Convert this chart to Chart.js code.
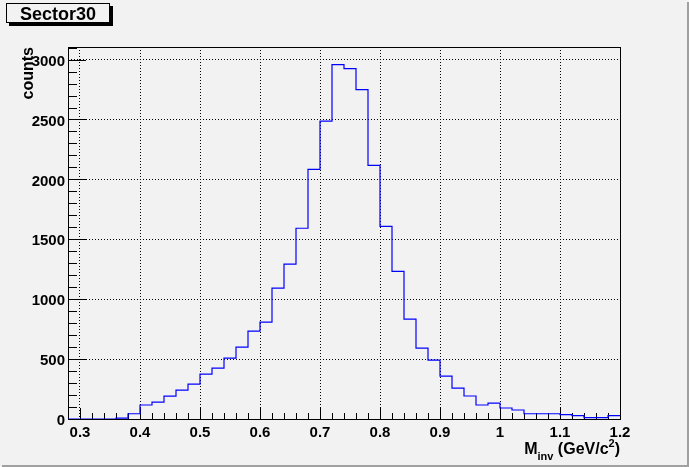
<!DOCTYPE html>
<html lang="en">
<head>
  <meta charset="UTF-8">
  <title>Sector30</title>
  <script src="https://cdn.jsdelivr.net/npm/chart.js"></script>
  <style>
    body { margin: 0; background: #f2f2f2; }
  </style>
</head>
<body>
  <canvas id="sectorChart" width="689" height="467"></canvas>

  <script>
    // low edges of the 0.02 GeV/c^2 bins
    const binEdges = [0.28, 0.30, 0.32, 0.34, 0.36, 0.38, 0.40, 0.42, 0.44, 0.46,
                      0.48, 0.50, 0.52, 0.54, 0.56, 0.58, 0.60, 0.62, 0.64, 0.66,
                      0.68, 0.70, 0.72, 0.74, 0.76, 0.78, 0.80, 0.82, 0.84, 0.86,
                      0.88, 0.90, 0.92, 0.94, 0.96, 0.98, 1.00, 1.02, 1.04, 1.06,
                      1.08, 1.10, 1.12, 1.14, 1.16, 1.18];
    const counts = [0, 0, 0, 0, 8, 44, 117, 141, 191, 241,
                    291, 375, 425, 508, 600, 733, 808, 1092, 1292, 1592,
                    2083, 2486, 2958, 2925, 2750, 2117, 1608, 1233, 833, 592,
                    492, 358, 258, 192, 117, 133, 92, 75, 44, 44,
                    44, 36, 28, 11, 11, 28];
    const xRange = [0.28, 1.2];
    const yMax = 3105;
    const xTickLabels = [0.3, 0.4, 0.5, 0.6, 0.7, 0.8, 0.9, 1.0, 1.1, 1.2];
    const yTickLabels = [0, 500, 1000, 1500, 2000, 2500, 3000];

    const histTitle = 'Sector30';
    const yTitle = 'counts';

    // step outline: each point is a bin's low edge, plus the closing upper edge
    const points = binEdges.map((e, i) => ({ x: e, y: counts[i] }));
    points.push({ x: xRange[1], y: counts[counts.length - 1] });

    const bg = '#f2f2f2';
    const font = 'Liberation Sans, Arial, Helvetica, sans-serif';

    // background, frame, inside ticks, titles (ROOT look)
    const rootStyle = {
      id: 'rootStyle',
      beforeDraw(chart) {
        const c = chart.ctx;
        c.save();
        c.fillStyle = bg;
        c.fillRect(0, 0, chart.width, chart.height);
        c.fillStyle = '#a0a0a0';
        c.fillRect(chart.width - 2, 2, 2, chart.height - 2);
        c.fillRect(2, chart.height - 2, chart.width - 2, 2);
        c.restore();
      },
      beforeDatasetsDraw(chart) {
        const c = chart.ctx;
        const a = chart.chartArea;
        const xs = chart.scales.x;
        const ys = chart.scales.y;
        c.save();
        c.strokeStyle = '#000';
        c.lineWidth = 1;
        c.beginPath();
        // x ticks, pointing up from the bottom of the frame
        for (let v = 28; v <= 120; v += 2) {
          const px = Math.round(xs.getPixelForValue(v / 100)) + 0.5;
          const len = (v % 10 === 0) ? 11 : 6;
          c.moveTo(px, a.bottom);
          c.lineTo(px, a.bottom - len);
        }
        // y ticks, pointing right from the left of the frame
        for (let v = 0; v <= 3100; v += 100) {
          const py = Math.round(ys.getPixelForValue(v)) + 0.5;
          const len = (v % 500 === 0) ? 18 : 9;
          c.moveTo(a.left, py);
          c.lineTo(a.left + len, py);
        }
        c.stroke();
        c.strokeRect(Math.round(a.left) + 0.5, Math.round(a.top) + 0.5,
                     Math.round(a.right - a.left), Math.round(a.bottom - a.top));
        c.restore();
      },
      afterDraw(chart) {
        const c = chart.ctx;
        const a = chart.chartArea;
        c.save();
        // title box with shadow
        c.fillStyle = '#000';
        c.fillRect(9, 6, 104, 20);
        c.fillStyle = bg;
        c.fillRect(6, 3, 104, 20);
        c.strokeStyle = '#000';
        c.lineWidth = 1;
        c.strokeRect(6.5, 3.5, 103, 19);
        c.fillStyle = '#000';
        c.font = 'bold 18px ' + font;
        c.textAlign = 'center';
        c.textBaseline = 'alphabetic';
        c.fillText(histTitle, 58, 20);

        // y axis title, rotated, flush with the top of the frame
        c.save();
        c.translate(33, a.top);
        c.rotate(-Math.PI / 2);
        c.font = 'bold 16px ' + font;
        c.textAlign = 'right';
        c.fillText(yTitle, 0, 0);
        c.restore();

        // x axis title M_inv (GeV/c^2), flush with the right of the frame
        const big = 'bold 16px ' + font;
        const small = 'bold 11px ' + font;
        const parts = [
          { t: 'M', f: big, dy: 0 },
          { t: 'inv', f: small, dy: 6 },
          { t: ' (GeV/c', f: big, dy: 0 },
          { t: '2', f: small, dy: -7 },
          { t: ')', f: big, dy: 0 }
        ];
        let total = 0;
        parts.forEach(p => { c.font = p.f; p.w = c.measureText(p.t).width; total += p.w; });
        let x = a.right - total;
        const base = 454;
        c.textAlign = 'left';
        parts.forEach(p => {
          c.font = p.f;
          c.fillText(p.t, x, base + p.dy);
          x += p.w;
        });
        c.restore();
      }
    };

    const ctx = document.getElementById('sectorChart').getContext('2d');
    const sectorChart = new Chart(ctx, {
      type: 'line',
      data: {
        datasets: [{
          label: histTitle,
          data: points,
          borderColor: '#0000ff',
          borderWidth: 1.2,
          stepped: 'before',
          pointRadius: 0,
          fill: false
        }]
      },
      options: {
        responsive: false,
        devicePixelRatio: 1,
        animation: false,
        layout: { padding: { top: 47, right: 69, bottom: 0, left: 0 } },
        plugins: { legend: { display: false }, tooltip: { enabled: false } },
        scales: {
          x: {
            type: 'linear',
            min: xRange[0],
            max: xRange[1],
            afterBuildTicks: s => { s.ticks = xTickLabels.map(v => ({ value: v })); },
            afterFit: s => { s.height = 48; },
            grid: { color: '#000', lineWidth: 1, drawTicks: false },
            border: { display: false, dash: [1, 2] },
            ticks: {
              autoSkip: false,
              maxRotation: 0,
              padding: 5,
              color: '#000',
              font: { family: font, weight: 'bold', size: 15 },
              callback: v => String(+v.toFixed(1))
            }
          },
          y: {
            min: 0,
            max: yMax,
            afterBuildTicks: s => { s.ticks = yTickLabels.map(v => ({ value: v })); },
            afterFit: s => { s.width = 68; },
            grid: { color: '#000', lineWidth: 1, drawTicks: false },
            border: { display: false, dash: [1, 2] },
            ticks: {
              padding: 3,
              labelOffset: 2,
              color: '#000',
              font: { family: font, weight: 'bold', size: 15 },
              callback: v => String(v)
            }
          }
        }
      },
      plugins: [rootStyle]
    });
  </script>
</body>
</html>
